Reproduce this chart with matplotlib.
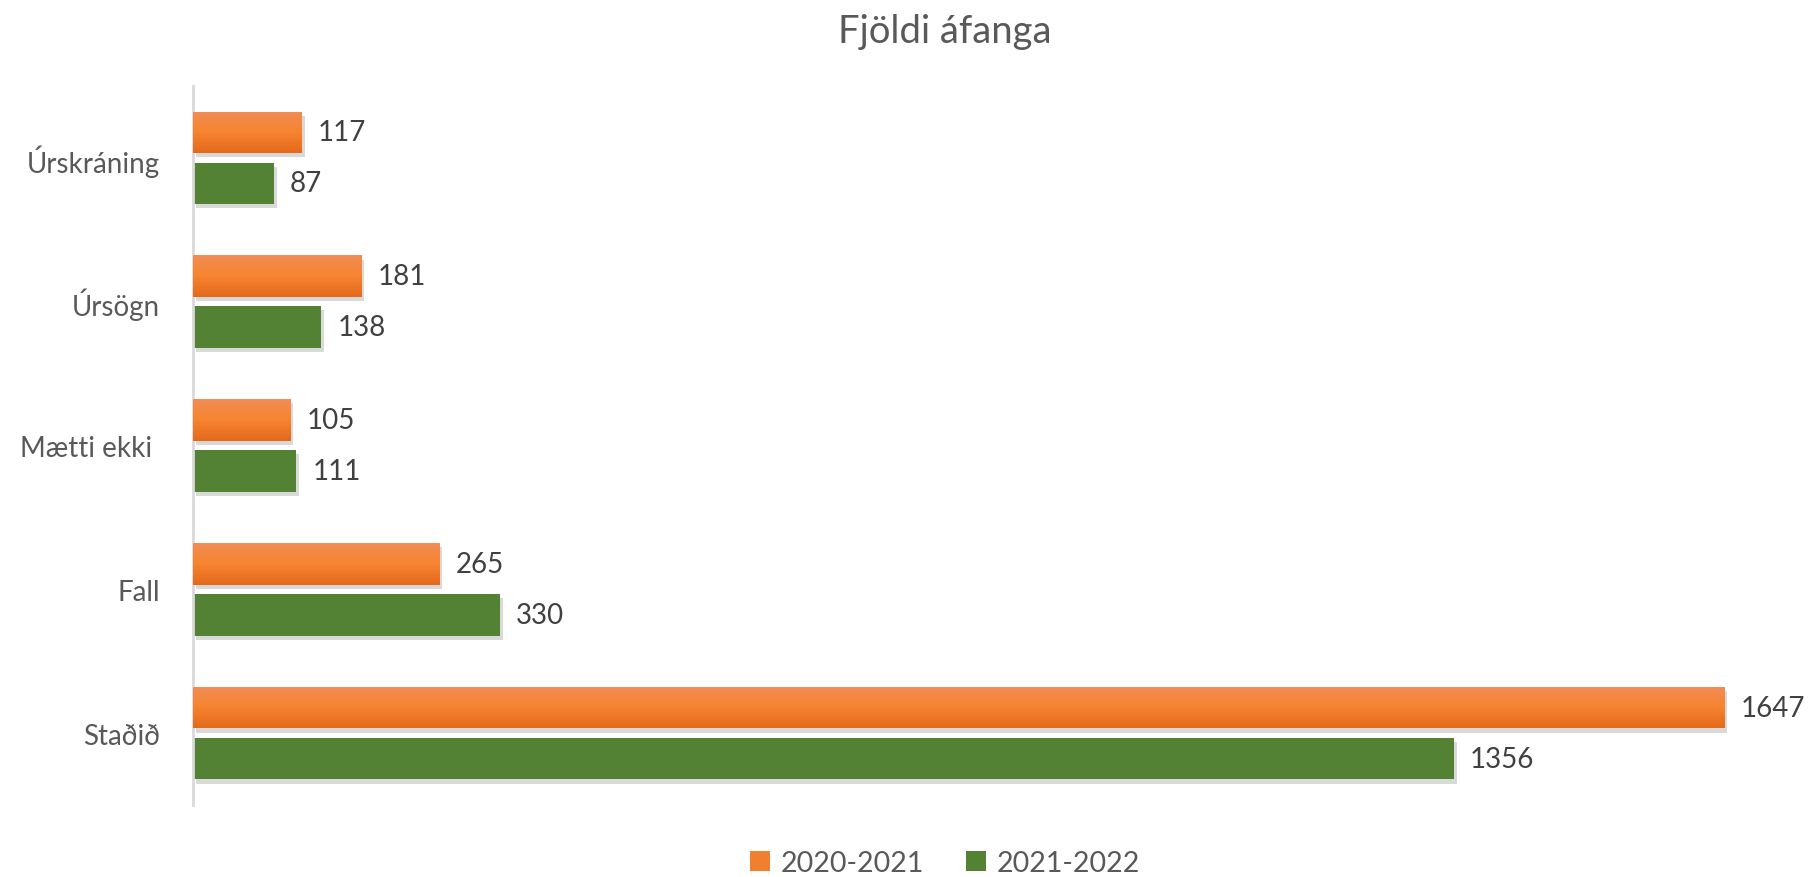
import numpy as np
import matplotlib
matplotlib.use("Agg")
import matplotlib.pyplot as plt
import matplotlib.patheffects as pe
from matplotlib.patches import Patch
from matplotlib.colors import LinearSegmentedColormap

plt.rcParams["font.family"] = ["Lato", "DejaVu Sans"]

categories = ["Úrskráning", "Úrsögn", "Mætti ekki ", "Fall", "Staðið"]
series_names = ["2020-2021", "2021-2022"]
v2020 = [117, 181, 105, 265, 1647]
v2021 = [87, 138, 111, 330, 1356]

orange = "#F08030"
green = "#548235"
grad = LinearSegmentedColormap.from_list("og", ["#F28D55", "#F6832F", "#E4691C"])

fig = plt.figure(figsize=(18.11, 8.78), dpi=100)
ax = fig.add_axes([193 / 1811, 72 / 878, 1607 / 1811, 719 / 878])

y = np.arange(len(categories))
h = 0.29
off = 0.177
shadow = [pe.SimplePatchShadow(offset=(2, -3), shadow_rgbFace="#000000", alpha=0.15), pe.Normal()]

bars1 = ax.barh(y - off, v2020, height=h, color=orange, zorder=2, path_effects=shadow)
bars2 = ax.barh(y + off, v2021, height=h, color=green, zorder=2, path_effects=shadow)

# gradient on orange bars
g = np.linspace(0, 1, 64).reshape(-1, 1)
for b in bars1:
    x0, y0, w, hh = b.get_x(), b.get_y(), b.get_width(), b.get_height()
    im = ax.imshow(g, cmap=grad, aspect="auto", extent=(x0, x0 + w, y0 + hh, y0),
                   zorder=3, interpolation="bicubic")
    im.set_clip_path(b)

for bars in (bars1, bars2):
    for b in bars:
        ax.annotate(f"{int(b.get_width())}", (b.get_width(), b.get_y() + b.get_height() / 2),
                    xytext=(16, 0), textcoords="offset pixels",
                    va="center", ha="left", fontsize=20, color="#404040")

ax.set_xlim(0, 1728)
ax.set_ylim(len(categories) - 0.5, -0.5)
ax.set_yticks(y)
ax.set_yticklabels(categories, fontsize=20, color="#595959")
ax.tick_params(axis="y", length=0, pad=24)
ax.set_xticks([])
for s in ["top", "right", "bottom"]:
    ax.spines[s].set_visible(False)
ax.spines["left"].set_color("#D9D9D9")
ax.spines["left"].set_linewidth(2)

fig.text(945 / 1811, 1 - 32 / 878, "Fjöldi áfanga", ha="center", va="center",
         fontsize=27.5, color="#595959")

handles = [Patch(facecolor=orange, label=series_names[0]),
           Patch(facecolor=green, label=series_names[1])]
fig.legend(handles=handles, loc="center", bbox_to_anchor=(945 / 1811, 1 - 864 / 878),
           ncol=2, frameon=False, fontsize=20.5, labelcolor="#595959",
           handlelength=0.7, handleheight=0.7, handletextpad=0.35, columnspacing=1.5)

fig.savefig("out.png", dpi=100, facecolor="white")
